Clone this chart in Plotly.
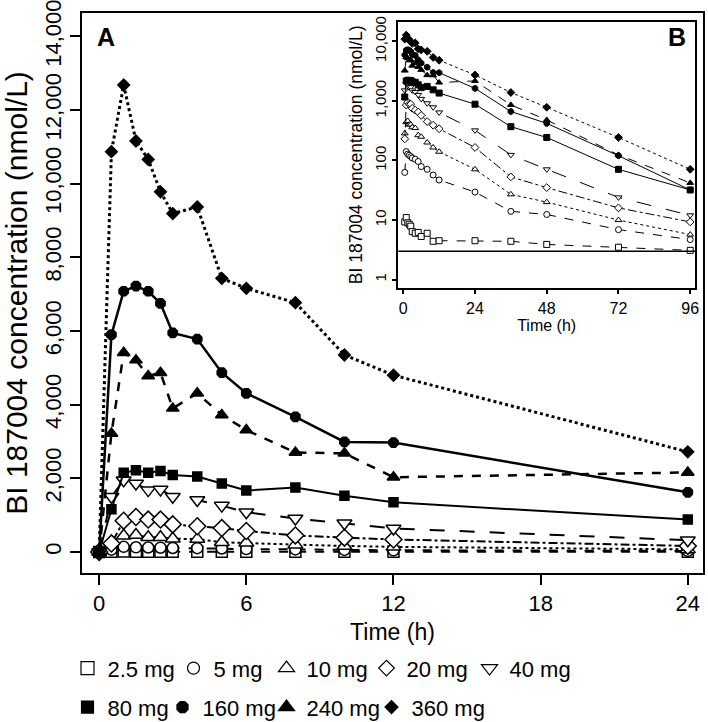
import plotly.graph_objects as go

# ---- data ----
TIME = [0, 0.5, 1, 1.5, 2, 2.5, 3, 4, 5, 6, 8, 10, 12, 24, 36, 48, 72, 96]
MAIN_N = 14  # main panel shows 0-24 h

DOSES = ["2.5 mg", "5 mg", "10 mg", "20 mg", "40 mg", "80 mg", "160 mg", "240 mg", "360 mg"]

c_2_5 = [0, 9.3, 11, 9, 8.5, 7.9, 6.4, 6.0, 6.2, 5.3, 6.0, 4.4, 4.5, 4.5, 4.4, 3.9, 3.5, 3.1]
c_5 = [0, 63, 141, 128, 122, 116, 110, 105, 96, 79, 71, 57, 47, 29.5, 14, 12.4, 6.9, 4.7]
c_10 = [0, 285, 440, 460, 400, 400, 360, 350, 265, 250, 200, 165, 140, 71, 27, 20, 10, 5.7]
c_20 = [0, 230, 850, 950, 880, 880, 750, 700, 650, 570, 450, 390, 340, 165, 53, 35, 16, 9.3]
c_40 = [0, 1500, 1950, 1860, 1680, 1700, 1500, 1410, 1260, 1080, 910, 780, 640, 320, 124, 71, 24, 12]
c_80 = [0, 1160, 2150, 2220, 2150, 2200, 2090, 2050, 1860, 1670, 1750, 1530, 1350, 880, 369, 243, 71, 32]
c_160 = [0, 5900, 7080, 7220, 7080, 6750, 5950, 5780, 4870, 4310, 3670, 2990, 2970, 1620, 662, 419, 120, 32]
c_240 = [0, 3220, 5410, 5210, 4780, 4870, 3900, 4310, 3720, 3310, 2700, 2680, 2030, 2160, 855, 478, 124, 42]
c_360 = [0, 10870, 12680, 11160, 10660, 9780, 9190, 9370, 7430, 7160, 6770, 5350, 4800, 2720, 1380, 780, 243, 71]
CONC = [c_2_5, c_5, c_10, c_20, c_40, c_80, c_160, c_240, c_360]

LLOQ = 3  # horizontal reference line in panel B

MAIN_XTICKS = [0, 6, 12, 18, 24]
MAIN_YTICKS = [0, 2000, 4000, 6000, 8000, 10000, 12000, 14000]
INSET_XTICKS = [0, 24, 48, 72, 96]
INSET_YTICKS = [1, 10, 100, 1000, 10000]
INSET_YTICKTEXT = ["1", "10", "100", "1,000", "10,000"]

# ---- styles ----
SYMBOLS = ["square", "circle", "triangle-up", "diamond", "triangle-down",
           "square", "octagon", "triangle-up", "diamond"]
FILLED = [False, False, False, False, False, True, True, True, True]
DASHES = ["dash", "dash", "dot", "dashdot", "longdash", "solid", "solid", "dash", "dot"]
LWIDTH = [2, 2, 2, 2, 2, 2, 2.5, 2.5, 3]
MSIZE = [11, 11, 13, 13, 13, 9, 10, 11, 9]
LEG_SIZE = [13, 12, 14, 12, 14, 12, 12, 14, 10]

# legend layout: two rows, key-symbol centre positions (px) per entry
PLOT_L, PLOT_W, PLOT_B, PLOT_H = 82, 621, 572.7, 560
LEG_ROW = [0, 0, 0, 0, 0, 1, 1, 1, 1]
LEG_SYM_X = [89, 195, 288, 388, 491, 89, 184, 288, 393]
LEG_ROW_Y = [668, 707]

FONT = "Liberation Sans, Arial, sans-serif"

fig = go.Figure()

for i, name in enumerate(DOSES):
    fill = "black" if FILLED[i] else "white"
    fig.add_trace(go.Scatter(
        x=TIME[:MAIN_N], y=CONC[i][:MAIN_N], mode="lines+markers",
        line=dict(color="black", width=LWIDTH[i], dash=DASHES[i]),
        marker=dict(symbol=SYMBOLS[i], size=MSIZE[i], color=fill,
                    line=dict(color="black", width=1.5)),
        showlegend=False, xaxis="x", yaxis="y", cliponaxis=False))

for i, name in enumerate(DOSES):
    fill = "black" if FILLED[i] else "white"
    fig.add_trace(go.Scatter(
        x=TIME[1:], y=CONC[i][1:], mode="lines+markers",
        line=dict(color="black", width=1, dash=DASHES[i]),
        marker=dict(symbol=SYMBOLS[i], size=6, color=fill,
                    line=dict(color="black", width=1)),
        showlegend=False, xaxis="x2", yaxis="y2"))

legends = {}
for i, name in enumerate(DOSES):
    fill = "black" if FILLED[i] else "white"
    lid = "legend" if i == 0 else f"legend{i + 1}"
    fig.add_trace(go.Scatter(
        x=[None], y=[None], mode="markers", name=name,
        marker=dict(symbol=SYMBOLS[i], size=LEG_SIZE[i], color=fill,
                    line=dict(color="black", width=1.2)),
        legend=lid, xaxis="x", yaxis="y"))
    legends[lid] = dict(
        orientation="h", xanchor="left", yanchor="middle",
        x=(LEG_SYM_X[i] - 21.5 - PLOT_L) / PLOT_W,
        y=(PLOT_B - LEG_ROW_Y[LEG_ROW[i]]) / PLOT_H,
        font=dict(size=22), bgcolor="rgba(0,0,0,0)", itemsizing="trace")

axis_common = dict(showgrid=False, zeroline=False, showline=True, linecolor="black",
                   mirror=True, ticks="outside", tickcolor="black", automargin=False,
                   ticklabeloverflow="allow")

fig.update_layout(
    width=708, height=722,
    margin=dict(l=82, r=5, t=13, b=149, autoexpand=False),
    paper_bgcolor="white", plot_bgcolor="white",
    font=dict(family=FONT, color="black"),
    xaxis=dict(**axis_common, domain=[0, 1], range=[-0.7, 24.62],
               tickvals=MAIN_XTICKS, ticklen=10, tickwidth=2, linewidth=2,
               tickfont=dict(size=22),
               title=dict(text="Time (h)", font=dict(size=23), standoff=8)),
    yaxis=dict(**axis_common, domain=[0, 1], range=[-570, 14635],
               tickvals=MAIN_YTICKS, tickformat=",d", tickangle=-90,
               ticklen=10, tickwidth=2, linewidth=2,
               tickfont=dict(size=22),
               title=dict(text="BI 187004 concentration (nmol/L)",
                          font=dict(size=30), standoff=10)),
    xaxis2=dict(**axis_common, domain=[0.5093, 0.9871], anchor="y2",
                range=[-1.67, 97.6], tickvals=INSET_XTICKS, ticklen=5,
                tickwidth=1.5, linewidth=1.5, tickfont=dict(size=16),
                title=dict(text="Time (h)", font=dict(size=16), standoff=2)),
    yaxis2=dict(**axis_common, domain=[0.5096, 0.984], anchor="x2",
                type="log", range=[-0.134, 4.324], tickvals=INSET_YTICKS,
                ticktext=INSET_YTICKTEXT, tickangle=-90, ticklen=5,
                tickwidth=1.5, linewidth=1.5, tickfont=dict(size=15),
                title=dict(text="BI 187004 concentration (nmol/L)",
                           font=dict(size=17.5), standoff=4)),
    shapes=[dict(type="line", xref="x2 domain", yref="y2", x0=0, x1=1,
                 y0=LLOQ, y1=LLOQ, line=dict(color="black", width=1.5))],
    annotations=[
        dict(text="<b>A</b>", xref="paper", yref="paper", x=0.021, y=0.958,
             xanchor="left", yanchor="middle", showarrow=False, font=dict(size=25)),
        dict(text="<b>B</b>", xref="paper", yref="paper", x=0.976, y=0.958,
             xanchor="right", yanchor="middle", showarrow=False, font=dict(size=25)),
    ],
    **legends,
)

fig.write_html("out.html", config={"displayModeBar": False},
               post_script="document.body.style.margin='0';document.body.style.overflow='hidden';")
